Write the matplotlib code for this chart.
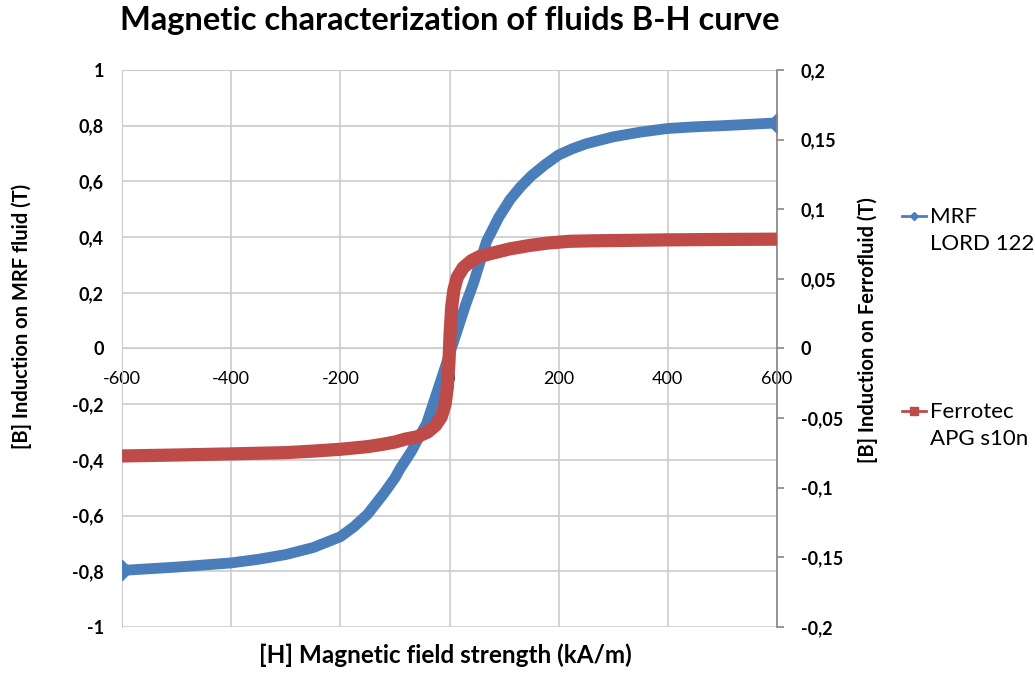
import matplotlib
matplotlib.use('Agg')
import matplotlib.pyplot as plt
from matplotlib.lines import Line2D
from matplotlib.ticker import FuncFormatter

plt.rcParams['font.family'] = ['Lato', 'DejaVu Sans']

# MRF LORD 122 (left axis, T)
h_mrf = [-600, -500, -400, -350, -300, -250, -200, -175, -150, -120, -100, -90, -70,
         -55, -42, -20, 0, 20, 30, 44, 55, 68, 90, 111, 130, 150, 175, 200, 225,
         250, 300, 350, 400, 450, 500, 600]
b_mrf = [-0.797, -0.785, -0.77, -0.757, -0.74, -0.715, -0.676, -0.64, -0.595, -0.52,
         -0.465, -0.43, -0.37, -0.315, -0.27, -0.14, -0.02, 0.10, 0.16, 0.235, 0.305,
         0.385, 0.47, 0.535, 0.58, 0.62, 0.66, 0.695, 0.717, 0.735, 0.76, 0.777,
         0.79, 0.796, 0.80, 0.81]

# Ferrotec APG s10n (right axis, T)
h_ff = [-600, -500, -400, -300, -250, -200, -150, -125, -100, -80, -60, -40, -25,
        -15, -8, -4, -1, 1, 4, 8, 14, 25, 40, 55, 74, 110, 147, 180, 221, 260, 300,
        400, 500, 600]
b_ff = [-0.0772, -0.0765, -0.0757, -0.0748, -0.0737, -0.0724, -0.0705, -0.069,
        -0.0672, -0.065, -0.0635, -0.060, -0.055, -0.049, -0.040, -0.028, -0.010,
        0.010, 0.030, 0.042, 0.051, 0.058, 0.063, 0.066, 0.068, 0.0715, 0.074,
        0.0757, 0.077, 0.0773, 0.0775, 0.078, 0.0783, 0.0785]

x_ticks = [-600, -400, -200, 0, 200, 400, 600]
y_ticks = [-1, -0.8, -0.6, -0.4, -0.2, 0, 0.2, 0.4, 0.6, 0.8, 1]
y2_ticks = [-0.2, -0.15, -0.1, -0.05, 0, 0.05, 0.1, 0.15, 0.2]

blue = '#4a7ebb'
red = '#be4b48'
grid_c = '#cccccc'

def comma(v, pos=None):
    return ('%g' % round(v, 3)).replace('.', ',')

fig = plt.figure(figsize=(10.35, 6.73), dpi=100)
ax = fig.add_axes([0.1179, 0.0684, 0.6328, 0.8276])

ax.plot(h_mrf, b_mrf, color=blue, lw=7.8, solid_capstyle='butt',
        solid_joinstyle='round', zorder=3, marker='D', ms=10,
        markevery=[0, len(h_mrf) - 1])
ax.set_xlim(-600, 600)
ax.set_ylim(-1, 1)
ax.set_xticks(x_ticks)
ax.set_yticks(y_ticks)
ax.xaxis.set_major_formatter(FuncFormatter(comma))
ax.yaxis.set_major_formatter(FuncFormatter(comma))
ax.grid(True, color=grid_c, lw=1.2)
ax.set_axisbelow(True)
for s in ['top', 'left']:
    ax.spines[s].set_color(grid_c)
ax.spines['right'].set_visible(False)
ax.spines['bottom'].set_position(('data', 0))
ax.spines['bottom'].set_color(grid_c)
ax.tick_params(axis='x', length=0, pad=16, labelsize=13)
ax.tick_params(axis='y', length=0, pad=13, labelsize=13)
for t in ax.get_yticklabels():
    t.set_fontweight('bold')

ax2 = ax.twinx()
ax2.plot(h_ff, b_ff, color=red, lw=9.5, solid_capstyle='butt',
         solid_joinstyle='round', zorder=3)
ax2.set_ylim(-0.2, 0.2)
ax2.set_yticks(y2_ticks)
ax2.yaxis.set_major_formatter(FuncFormatter(comma))
for s in ['top', 'left', 'bottom']:
    ax2.spines[s].set_visible(False)
ax2.spines['right'].set_color('#868686')
ax2.spines['right'].set_linewidth(1.2)
ax2.tick_params(axis='y', direction='out', length=5, width=1.2, color='#868686',
                pad=12, labelsize=13)
for t in ax2.get_yticklabels():
    t.set_fontweight('bold')

fig.text(0.435, 0.970, 'Magnetic characterization of fluids B-H curve',
         ha='center', va='center', fontsize=23.5, fontweight='bold')
fig.text(0.430, 0.027, '[H] Magnetic field strength (kA/m)',
         ha='center', va='center', fontsize=17.5, fontweight='bold')
fig.text(0.021, 0.53, '[B] Induction on MRF fluid (T)', rotation=90,
         ha='center', va='center', fontsize=14.5, fontweight='bold')
fig.text(0.838, 0.51, '[B] Induction on Ferrofluid (T)', rotation=90,
         ha='center', va='center', fontsize=14.5, fontweight='bold')

blank = Line2D([], [], color='none')
leg_kw = dict(loc='upper left', frameon=False, fontsize=16, handlelength=1.1,
              handletextpad=0.15, labelspacing=0.3, borderpad=0, borderaxespad=0)
fig.legend([Line2D([], [], color=blue, lw=2, marker='D', ms=4), blank],
           ['MRF', 'LORD 122'], bbox_to_anchor=(0.8715, 0.692), **leg_kw)
fig.legend([Line2D([], [], color=red, lw=2, marker='s', ms=6), blank],
           ['Ferrotec', 'APG s10n'], bbox_to_anchor=(0.8715, 0.402), **leg_kw)

fig.savefig('out.png', dpi=100)
